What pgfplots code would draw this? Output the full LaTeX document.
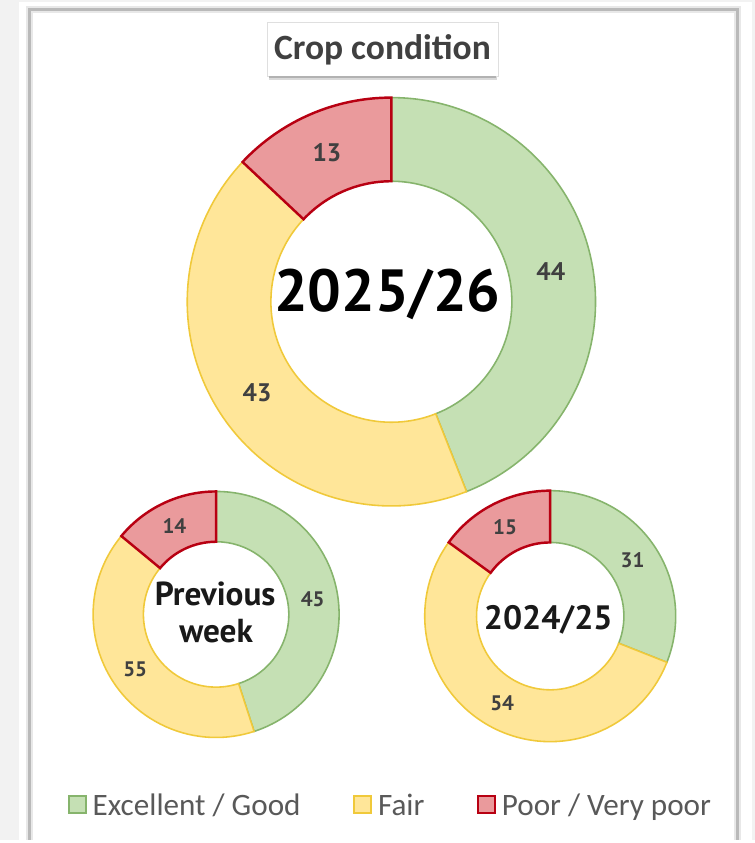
\documentclass[border=0pt]{standalone}
\usepackage{fontspec}
\setmainfont{Carlito}
\newfontfamily\ptsans{PT Sans}
\usepackage{pgfplots}
\pgfplotsset{compat=1.18}
\usepackage{pgfplotstable}

\definecolor{gFill}{HTML}{C5E0B4}
\definecolor{gEdge}{HTML}{86B46C}
\definecolor{yFill}{HTML}{FFE699}
\definecolor{yEdge}{HTML}{F0C93A}
\definecolor{rFill}{HTML}{EA9A9C}
\definecolor{rEdge}{HTML}{B80012}
\definecolor{bgGray}{HTML}{F2F2F2}
\definecolor{lbl}{HTML}{404040}
\definecolor{legtxt}{HTML}{595959}

% cx, cy: donut centre (px); m = start% / value% / outer r / inner r / label / label size
\pgfplotstableread{
cx cy m
393 540 0/44/205/121/44/14.5
217 226 0/45/123.5/73/45/12
552.5 224.3 0/31/126/74/31/12
}\goodtab
\pgfplotstableread{
cx cy m
393 540 44/43/205/121/43/14.5
217 226 45/41/123.5/73/55/12
552.5 224.3 31/54/126/74/54/12
}\fairtab
\pgfplotstableread{
cx cy m
393 540 87/13/205/121/13/14.5
217 226 86/14/123.5/73/14/12
552.5 224.3 85/15/126/74/15/12
}\poortab

\def\parsewedge#1/#2/#3/#4/#5/#6\relax{%
  \def\dSt{#1}\def\dVa{#2}\def\dRo{#3}\def\dRi{#4}\def\dLab{#5}\def\dFs{#6}}

\pgfplotsset{
  donut/.style n args={3}{
    scatter, only marks, mark=o, mark size=0pt, forget plot,
    point meta=explicit symbolic,
    mark options={draw opacity=0, fill opacity=0},
    scatter/@pre marker code/.code={%
      \expandafter\parsewedge\pgfplotspointmeta\relax
      \pgfmathsetmacro\aS{90-3.6*\dSt}%
      \pgfmathsetmacro\aE{90-3.6*(\dSt+\dVa)}%
      \pgfmathsetmacro\aM{0.5*(\aS+\aE)}%
      \pgfmathsetlengthmacro\Ro{\dRo*0.02cm}%
      \pgfmathsetlengthmacro\Ri{\dRi*0.02cm}%
      \pgfmathsetlengthmacro\Rm{0.5*(\dRo+\dRi)*0.02cm}%
      \filldraw[fill=#1, draw=#2, line width=#3, line join=miter, draw opacity=1, fill opacity=1]
        (\aS:\Ro) arc[start angle=\aS, end angle=\aE, radius=\Ro]
        -- (\aE:\Ri) arc[start angle=\aE, end angle=\aS, radius=\Ri] -- cycle;
      \node[text=lbl, opacity=1, text opacity=1, font=\ptsans\bfseries\fontsize{\dFs pt}{\dFs pt}\selectfont] at (\aM:\Rm) {\dLab};
    },
    scatter/@post marker code/.code={},
  },
  sqleg/.style n args={2}{legend image code/.code={\filldraw[fill=#1, draw=#2, line width=1pt] (0cm,-0.15cm) rectangle (0.34cm,0.19cm);}},
}

\begin{document}
\begin{tikzpicture}
\begin{axis}[
  set layers,
  x=0.02cm, y=0.02cm, xmin=0, xmax=758, ymin=0, ymax=843,
  hide axis, clip=false,
  legend columns=3,
  legend style={at={(axis cs:68,34)}, anchor=west, draw=none, fill=none, inner sep=0pt,
    font=\fontsize{17.8pt}{20pt}\selectfont, text=legtxt, nodes={inner sep=0pt},
    /tikz/every odd column/.append style={column sep=0.12cm},
    /tikz/every even column/.append style={column sep=1.06cm}},
]
% background and card frame
\fill[on layer=axis background, bgGray] (0,0) rectangle (758,843);
\fill[on layer=axis background, white] (19,0) rectangle (755,841);
\draw[on layer=axis background, gray!18, line width=0.14cm] (29.5,0) -- (29.5,833) -- (740.5,833) -- (740.5,0);
\draw[on layer=axis background, gray!55, line width=0.05cm] (29.5,0) -- (29.5,833.5) -- (740.5,833.5) -- (740.5,0);
% title box
\fill[on layer=axis background, gray!30] (270,763) rectangle (499,768);
\draw[on layer=axis background, gray!25, fill=white] (268,766) rectangle (500,821);
\draw[on layer=axis background, gray!60, line width=0.05cm] (270,765.5) -- (498,765.5);
\node[text=lbl, font=\bfseries\fontsize{20.3pt}{24pt}\selectfont] at (384,793) {Crop condition};

\addplot[donut={gFill}{gEdge}{0.9pt}] table[x=cx, y=cy, meta=m] {\goodtab};
\addplot[donut={yFill}{yEdge}{0.9pt}] table[x=cx, y=cy, meta=m] {\fairtab};
\addplot[donut={rFill}{rEdge}{1.4pt}] table[x=cx, y=cy, meta=m] {\poortab};

\addlegendimage{sqleg={gFill}{gEdge}}
\addlegendentry{Excellent / Good}
\addlegendimage{sqleg={yFill}{yEdge}}
\addlegendentry{Fair}
\addlegendimage{sqleg={rFill}{rEdge}}
\addlegendentry{Poor / Very poor}

% centre texts
\node[on layer=axis foreground, anchor=base, font=\ptsans\bfseries\fontsize{34pt}{40pt}\selectfont] at (389,530) {2025/26};
\node[on layer=axis foreground, anchor=base, text=black!90, font=\ptsans\bfseries\fontsize{19pt}{20pt}\selectfont] at (216,235) {Previous};
\node[on layer=axis foreground, anchor=base, text=black!90, font=\ptsans\bfseries\fontsize{19pt}{20pt}\selectfont] at (217,198) {week};
\node[on layer=axis foreground, anchor=base, text=black!90, font=\ptsans\bfseries\fontsize{19.3pt}{22pt}\selectfont] at (550.5,211) {2024/25};
\end{axis}
\end{tikzpicture}
\end{document}
